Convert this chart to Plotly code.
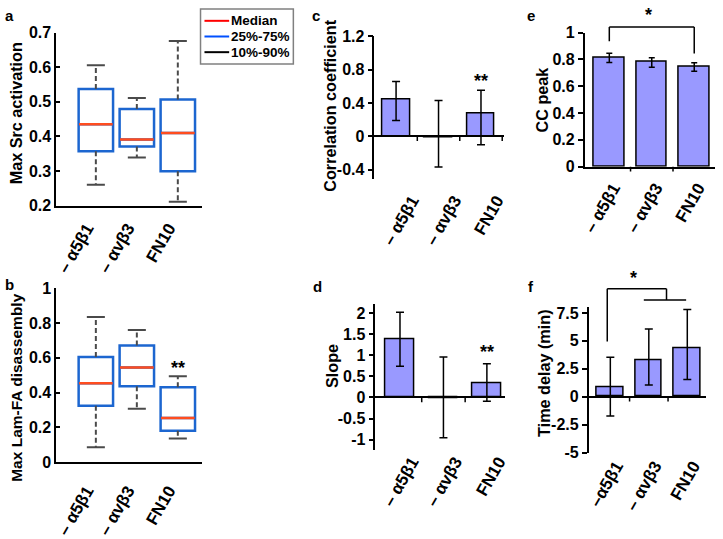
import plotly.graph_objects as go

W, H = 723, 539
FONT = "Liberation Sans, Arial, sans-serif"

categories = ["– α5β1", "– αvβ3", "FN10"]
categories_f = ["–α5β1", "– αvβ3", "FN10"]

# a: Max Src activation (10th, 25th, median, 75th, 90th percentiles)
src_p10 = [0.260, 0.339, 0.211]
src_q1 = [0.357, 0.371, 0.299]
src_med = [0.435, 0.391, 0.410]
src_q3 = [0.537, 0.479, 0.507]
src_p90 = [0.606, 0.511, 0.676]

# b: Max Lam-FA disassembly
lam_p10 = [0.085, 0.307, 0.136]
lam_q1 = [0.324, 0.436, 0.180]
lam_med = [0.454, 0.544, 0.253]
lam_q3 = [0.604, 0.671, 0.431]
lam_p90 = [0.835, 0.760, 0.493]

# c-f: bar value, top and bottom of the error bar
cc_mean = [0.446, -0.010, 0.278]
cc_hi = [0.659, 0.430, 0.552]
cc_lo = [0.190, -0.370, -0.103]

slope_mean = [1.376, -0.020, 0.338]
slope_hi = [2.015, 0.955, 0.800]
slope_lo = [0.737, -0.955, -0.090]

peak_mean = [0.813, 0.780, 0.744]
peak_hi = [0.846, 0.813, 0.775]
peak_lo = [0.777, 0.742, 0.713]

delay_mean = [0.85, 3.31, 4.32]
delay_hi = [3.53, 6.05, 7.80]
delay_lo = [-1.72, 1.05, 1.53]

yticks_a = [0.2, 0.3, 0.4, 0.5, 0.6, 0.7]
yticks_b = [0, 0.2, 0.4, 0.6, 0.8, 1]
yticks_c = [-0.4, 0, 0.4, 0.8, 1.2]
yticks_d = [-1, -0.5, 0, 0.5, 1, 1.5, 2]
yticks_e = [0, 0.2, 0.4, 0.6, 0.8, 1]
yticks_f = [-5, -2.5, 0, 2.5, 5, 7.5]

legend_names = ["Median", "25%-75%", "10%-90%"]
legend_colors = ["red", "#0050ff", "black"]

BLUE = "#1c66d0"
RED = "#ff4d1f"
WHISK = "#4a4a4a"
BAR = "#9999ff"

fig = go.Figure()
lay = {}
shapes = []
annotations = []


def bold(size):
    return dict(family=FONT, size=size, color="black", weight="bold")


def panel(i, xpx, ypx, xr, yr, yticks, labels, free=False, ytick="outside",
          shift=0, standoff=0, lw=1.5):
    s = "" if i == 1 else str(i)
    ydom = [1 - ypx[1] / H, 1 - ypx[0] / H]
    xa = dict(domain=[xpx[0] / W, xpx[1] / W], range=xr, showline=True,
              linecolor="black", linewidth=lw, tickmode="array",
              tickvals=[0, 1, 2], ticktext=labels, ticks="", tickangle=-60,
              tickfont=bold(17), showgrid=False, zeroline=False,
              ticklabelshift=shift, ticklabelstandoff=standoff)
    if free:
        zero = ydom[0] + (0 - yr[0]) / (yr[1] - yr[0]) * (ydom[1] - ydom[0])
        xa.update(anchor="free", position=zero)
    else:
        xa.update(anchor="y" + s)
    ya = dict(domain=ydom, range=yr, anchor="x" + s, showline=True,
              linecolor="black", linewidth=lw, tickmode="array",
              tickvals=yticks, ticktext=[f"{v:g}" for v in yticks],
              ticks=ytick, ticklen=5 if ytick == "outside" else 4,
              tickwidth=1.5, tickcolor="black", tickfont=bold(16),
              showgrid=False, zeroline=False)
    lay["xaxis" + s] = xa
    lay["yaxis" + s] = ya
    return "x" + s, "y" + s


def to_paper(ax, v):
    a = lay[ax.replace("y", "yaxis")]
    d, r = a["domain"], a["range"]
    return d[0] + (v - r[0]) / (r[1] - r[0]) * (d[1] - d[0])


def boundary_ticks(xa, ya):
    # small ticks between categories, hanging below the zero line
    y0 = to_paper(ya, 0)
    xmax = lay[xa.replace("x", "xaxis")]["range"][1]
    for b in [0.5, 1.5, 2.5]:
        if b <= xmax:
            shapes.append(dict(type="line", xref=xa, yref="paper", x0=b, x1=b,
                               y0=y0, y1=y0 - 5 / H,
                               line=dict(color="black", width=1.5)))


def boxes(xa, ya, p10, q1, med, q3, p90):
    wx, wy, cx, cy, mx, my = [], [], [], [], [], []
    for i in range(3):
        wx += [i, i, None, i, i, None]
        wy += [q3[i], p90[i], None, q1[i], p10[i], None]
        cx += [i - 0.22, i + 0.22, None, i - 0.22, i + 0.22, None]
        cy += [p90[i], p90[i], None, p10[i], p10[i], None]
        mx += [i - 0.41, i + 0.41, None]
        my += [med[i], med[i], None]
    common = dict(xaxis=xa, yaxis=ya, mode="lines", showlegend=False,
                  hoverinfo="skip")
    fig.add_trace(go.Scatter(x=wx, y=wy, line=dict(color=WHISK, width=2, dash="5px,3px"), **common))
    fig.add_trace(go.Scatter(x=cx, y=cy, line=dict(color=WHISK, width=2), **common))
    fig.add_trace(go.Box(x=[0, 1, 2], q1=q1, median=med, q3=q3, lowerfence=q1,
                         upperfence=q3, width=0.84, xaxis=xa, yaxis=ya,
                         line=dict(color=BLUE, width=2.5),
                         fillcolor="rgba(255,255,255,0)", showlegend=False,
                         hoverinfo="skip"))
    fig.add_trace(go.Scatter(x=mx, y=my, line=dict(color=RED, width=2.5), **common))


def bars(xa, ya, mean, hi, lo, width, cap):
    fig.add_trace(go.Bar(
        x=[0, 1, 2], y=mean, width=width, xaxis=xa, yaxis=ya, showlegend=False,
        marker=dict(color=BAR, line=dict(color="black", width=1.5)),
        error_y=dict(type="data", symmetric=False,
                     array=[h - m for h, m in zip(hi, mean)],
                     arrayminus=[m - l for m, l in zip(mean, lo)],
                     color="black", thickness=1.5, width=cap)))
    boundary_ticks(xa, ya)


# a
xa, ya = panel(1, (53, 200), (26, 208), [-0.964, 2.578], [0.2, 0.7], yticks_a,
               categories, ytick="inside", shift=-9, standoff=4, lw=2)
boxes(xa, ya, src_p10, src_q1, src_med, src_q3, src_p90)

# b
xb, yb = panel(2, (53, 200), (295, 478), [-0.964, 2.578], [0, 1], yticks_b,
               categories, ytick="inside", shift=-9, standoff=10, lw=2)
boxes(xb, yb, lam_p10, lam_q1, lam_med, lam_q3, lam_p90)

# c
xc, yc = panel(3, (375, 506), (29, 180), [-0.512, 2.535], [-0.514, 1.211],
               yticks_c, categories, free=True, shift=16, standoff=47)
bars(xc, yc, cc_mean, cc_hi, cc_lo, 0.65, 4)

# d
xd, yd = panel(4, (376, 507), (312, 465), [-0.568, 2.41], [-1.236, 2.202],
               yticks_d, categories, free=True, shift=12, standoff=47)
bars(xd, yd, slope_mean, slope_hi, slope_lo, 0.66, 4)

# e
xe, ye = panel(5, (588, 720), (26, 167), [-0.58, 2.49], [0, 1], yticks_e,
               categories, shift=4, standoff=3)
bars(xe, ye, peak_mean, peak_hi, peak_lo, 0.72, 3)

# f
xf, yf = panel(6, (592, 711), (315, 468), [-0.564, 2.49], [-5, 8.01],
               yticks_f, categories_f, free=True, shift=6, standoff=52)
bars(xf, yf, delay_mean, delay_hi, delay_lo, 0.69, 4)


# significance brackets (x in categories, y in data units)
def seg(xa, ya, x0, y0, x1, y1):
    shapes.append(dict(type="line", xref=xa, yref="paper", x0=x0, x1=x1,
                       y0=to_paper(ya, y0), y1=to_paper(ya, y1),
                       line=dict(color="black", width=1.5)))


seg(xe, ye, 0, 0.936, 0, 1.043)
seg(xe, ye, 0, 1.043, 2, 1.043)
seg(xe, ye, 2, 1.043, 2, 0.844)

seg(xf, yf, -0.08, 4.95, -0.08, 9.66)
seg(xf, yf, -0.08, 9.66, 1.46, 9.66)
seg(xf, yf, 1.46, 9.66, 1.46, 8.66)
seg(xf, yf, 0.87, 8.66, 1.97, 8.66)

for xa_, ya_, x, y, t in [(xb, yb, 2, 0.54, "**"), (xc, yc, 2, 0.663, "**"),
                          (xd, yd, 2, 1.08, "**"), (xe, ye, 0.93, 1.13, "*"),
                          (xf, yf, 0.59, 10.6, "*")]:
    annotations.append(dict(xref=xa_, yref="paper", x=x, y=to_paper(ya_, y),
                            text=t, showarrow=False, font=bold(18),
                            xanchor="center", yanchor="middle"))

# legend box for the box plots
shapes.append(dict(type="rect", xref="paper", yref="paper", x0=199 / W, x1=293 / W,
                   y0=1 - 59 / H, y1=1 - 1 / H, fillcolor="white",
                   line=dict(color="#808080", width=1.5)))
for k, (name, col) in enumerate(zip(legend_names, legend_colors)):
    yy = 1 - (13.5 + 16.5 * k) / H
    shapes.append(dict(type="line", xref="paper", yref="paper", x0=203 / W,
                       x1=228 / W, y0=yy, y1=yy, line=dict(color=col, width=2)))
    annotations.append(dict(xref="paper", yref="paper", x=228 / W, y=yy,
                            text=name, showarrow=False, font=bold(13.5),
                            xanchor="left", yanchor="middle"))

# axis titles and panel letters
for x, y, t, fs in [(13, 111, "Max Src activation", 16.2),
                    (13, 400, "Max Lam-FA disassembly", 15.5),
                    (330, 103, "Correlation coefficient", 16.2),
                    (332, 377, "Slope", 16.2), (545, 96, "CC peak", 16.2),
                    (547, 385, "Time delay (min)", 16.2)]:
    annotations.append(dict(xref="paper", yref="paper", x=x / W, y=1 - y / H,
                            text=t, textangle=-90, showarrow=False,
                            font=bold(fs), xanchor="center", yanchor="middle"))
for x, y, t in [(6, 8, "a"), (6, 291, "b"), (316, 8, "c"), (317, 293, "d"),
                (534, 8, "e"), (534, 293, "f")]:
    annotations.append(dict(xref="paper", yref="paper", x=x / W, y=1 - y / H,
                            text=t, showarrow=False, font=bold(15),
                            xanchor="center", yanchor="middle"))

fig.update_layout(
    width=W, height=H, margin=dict(l=0, r=0, t=0, b=0),
    paper_bgcolor="white", plot_bgcolor="white", font=dict(family=FONT),
    bargap=0, shapes=shapes, annotations=annotations, showlegend=False,
    **lay,
)

fig.write_html("out.html", config={"displayModeBar": False},
               post_script="document.body.style.margin='0';")
